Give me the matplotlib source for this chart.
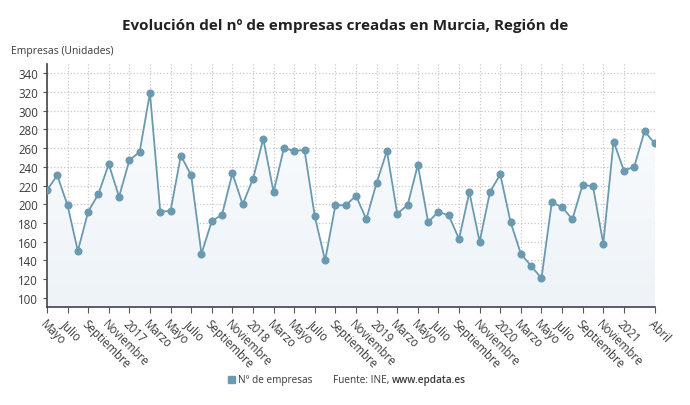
import numpy as np
import pandas as pd
import matplotlib
matplotlib.use('Agg')
import matplotlib.pyplot as plt
from matplotlib.patches import Rectangle

plt.rcParams['font.family'] = ['Open Sans', 'DejaVu Sans']

# monthly data, May 2016 - April 2021
months = pd.date_range('2016-05-01', '2021-04-01', freq='MS')
empresas = [215, 231, 199, 150, 192, 211, 243, 208, 247, 256,
            319, 192, 193, 252, 231, 147, 182, 189, 233, 200,
            227, 270, 213, 260, 257, 258, 187, 140, 199, 199,
            209, 184, 223, 257, 190, 199, 242, 181, 192, 188,
            163, 213, 160, 213, 232, 181, 147, 134, 121, 202,
            197, 184, 221, 219, 158, 267, 236, 240, 278, 265]
mes_nombres = ['Enero', 'Febrero', 'Marzo', 'Abril', 'Mayo', 'Junio', 'Julio',
               'Agosto', 'Septiembre', 'Octubre', 'Noviembre', 'Diciembre']
y_ticks = list(range(100, 341, 20))

line_color = '#6b9ab0'
text_color = '#3a3a3a'

fig = plt.figure(figsize=(6.9, 4.06), dpi=100)
ax = fig.add_axes([0.068, 0.241, 0.881, 0.599])

x = np.arange(len(empresas))
y = np.array(empresas)

# light gradient fill under the line
fill = ax.fill_between(x, y, 90, color='none', lw=0)
grad = np.linspace(0, 1, 256).reshape(-1, 1)
img = ax.imshow(grad, extent=[0, len(x) - 1, 90, 350], aspect='auto', origin='lower',
                cmap=matplotlib.colors.LinearSegmentedColormap.from_list('g', ['#edf3f8', '#fdfeff']),
                zorder=1)
img.set_clip_path(fill.get_paths()[0], transform=ax.transData)

ax.plot(x, y, color=line_color, lw=1.3, marker='o', markersize=4.8, zorder=3)

# tick labels every 2 months, year on January, plus the last month
tick_pos = []
tick_lab = []
for i, m in enumerate(months):
    if i % 2 == 0 and i < len(months) - 2:
        tick_pos.append(i)
        tick_lab.append(str(m.year) if m.month == 1 else mes_nombres[m.month - 1])
tick_pos.append(len(months) - 1)
tick_lab.append(mes_nombres[months[-1].month - 1])

ax.set_xlim(0, len(x) - 1)
ax.set_ylim(90, 350)
ax.set_xticks(tick_pos)
ax.set_xticklabels(tick_lab, rotation=-45, ha='left', va='top', rotation_mode='anchor',
                   fontsize=8.3, color=text_color)
ax.set_yticks(y_ticks)
ax.tick_params(axis='y', labelsize=8.3, labelcolor=text_color, length=3, color='#555555')
ax.tick_params(axis='x', length=4, color='#555555', pad=3)

ax.grid(True, color='#c8c8c8', ls=':', lw=0.9)
ax.set_axisbelow(True)
for s in ['top', 'right']:
    ax.spines[s].set_visible(False)
for s in ['left', 'bottom']:
    ax.spines[s].set_color('#444444')
    ax.spines[s].set_linewidth(1.2)

fig.text(0.5, 0.935, 'Evolución del nº de empresas creadas en Murcia, Región de',
         ha='center', va='center', fontsize=11, fontweight='bold', color='#222222')
fig.text(0.016, 0.872, 'Empresas (Unidades)', ha='left', va='center', fontsize=7.5, color=text_color)

# legend / source line
fig.patches.append(Rectangle((0.331, 0.055), 0.0095, 0.017, transform=fig.transFigure,
                             color=line_color, figure=fig))
fig.text(0.345, 0.063, 'Nº de empresas', ha='left', va='center', fontsize=7.2, color=text_color)
fig.text(0.483, 0.063, 'Fuente: INE, ', ha='left', va='center', fontsize=7.2, color=text_color)
fig.text(0.568, 0.063, 'www.epdata.es', ha='left', va='center', fontsize=7.2, fontweight='semibold',
         color=text_color)

fig.savefig('out.png', dpi=100)
